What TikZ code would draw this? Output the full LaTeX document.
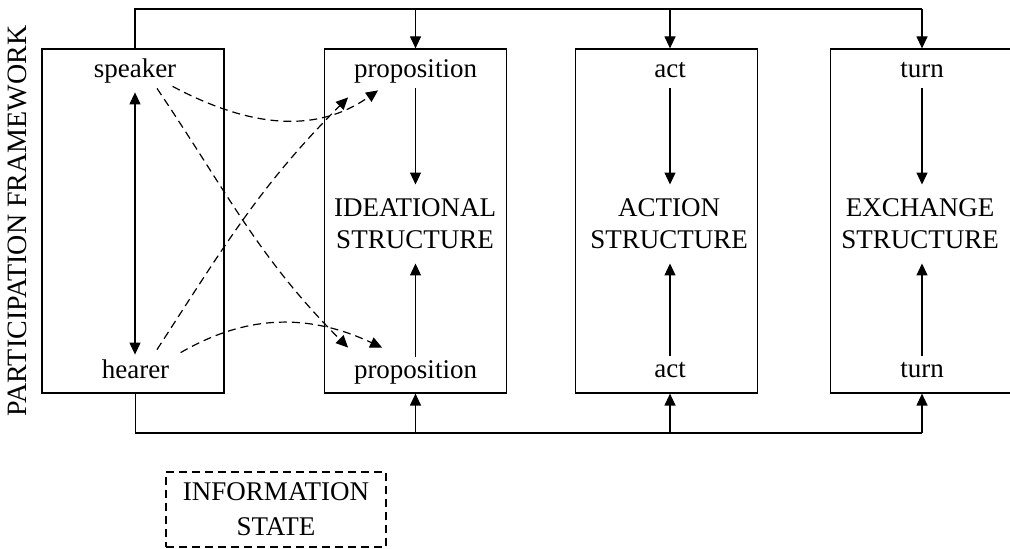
\documentclass[tikz,border=0pt]{standalone}
\usepackage{fontspec}
\setmainfont{Liberation Serif}
\usetikzlibrary{arrows.meta,calc,positioning}
\tikzset{
    frame/.style={draw,line width=0.6pt,minimum width=91pt,minimum height=172pt,inner sep=0pt},
    word/.style={inner sep=0pt,text height=9pt,text depth=3pt,anchor=base,font=\fontsize{13.5}{16}\selectfont},
    layer/.style={align=center,inner sep=7pt,font=\fontsize{13.5}{16}\selectfont},
    tip/.tip={Triangle[length=6pt,width=5.5pt]},
    arr/.style={line width=0.6pt,-tip},
    flow/.style={arr,dash pattern=on 4pt off 2.5pt},
    infobox/.style={draw,line width=0.6pt,dash pattern=on 4pt off 2.5pt,minimum width=110pt,minimum height=37.5pt,
        inner sep=0pt,align=center,font=\fontsize{13.5}{17.5}\selectfont}
}
\begin{document}
\begin{tikzpicture}[x=0.5pt,y=0.5pt]
    \useasboundingbox (0,0) rectangle (1010,-549);
    % the four boxes
    \node[frame] (b1) at (133,-221) {};
    \node[frame] (b2) at (415.5,-221) {};
    \node[frame] (b3) at (666.5,-221) {};
    \node[frame] (b4) at (921.5,-221) {};
    % texts
    \node[rotate=90,inner sep=0pt,font=\fontsize{14}{16}\selectfont] (pf) at (17.5,-221) {PARTICIPATION FRAMEWORK};
    \node[word] (spk) at (135,-78) {speaker};
    \node[word] (hr) at (135.5,-379) {hearer};
    \node[word] (ptop) at (415.5,-78) {proposition};
    \node[word] (pbot) at (415.5,-379) {proposition};
    \node[word] (atop) at (670,-78) {act};
    \node[word] (abot) at (670,-378) {act};
    \node[word] (ttop) at (922,-78) {turn};
    \node[word] (tbot) at (922,-378) {turn};
    \node[layer] (ideas) at (415,-224) {IDEATIONAL\\STRUCTURE};
    \node[layer] (acts) at (669,-224) {ACTION\\STRUCTURE};
    \node[layer] (turns) at (920,-224) {EXCHANGE\\STRUCTURE};
    \node[infobox] (info) at (276,-509.5) {INFORMATION\\STATE};
    % outer lines
    \coordinate (top) at (0,-9);
    \coordinate (bot) at (0,-433);
    \draw[line width=0.6pt] (spk.south |- b1.north) |- (top -| ttop.south);
    \draw[line width=0.6pt] (hr.north |- b1.south) |- (bot -| tbot.north);
    \foreach \n/\b in {ptop/b2,atop/b3,ttop/b4}
        \draw[arr] (\n.south |- top) -- (\n.south |- \b.north);
    \foreach \n/\b in {pbot/b2,abot/b3,tbot/b4}
        \draw[arr] (\n.north |- bot) -- (\n.north |- \b.south);
    % arrows inside the boxes
    \foreach \a/\m/\z in {ptop/ideas/pbot,atop/acts/abot,ttop/turns/tbot}{
        \draw[arr,shorten <=2pt] (\a.south) -- (\a.south |- \m.north);
        \draw[arr,shorten <=2pt] (\z.north) -- (\z.north |- \m.south);
    }
    \draw[line width=0.6pt,tip-tip,shorten <=4pt,shorten >=3pt] (spk.south) -- (spk.south |- hr.north);
    % dashed links
    \draw[flow] ($(spk.south east)+(-4,-2)$) to[out=-28,in=-145] ($(ptop.south west)+(24.5,-6)$);
    \draw[flow] ($(spk.south)+(22,-4)$) to[out=-56,in=135] ($(pbot.north west)+(-5.5,13)$);
    \draw[flow] ($(hr.north)+(21.5,11)$) to[out=57,in=-135] ($(ptop.south west)+(-5.5,-13)$);
    \draw[flow] ($(hr.north east)+(11,8)$) to[out=30,in=155] ($(pbot.north west)+(28.5,13)$);
\end{tikzpicture}
\end{document}
